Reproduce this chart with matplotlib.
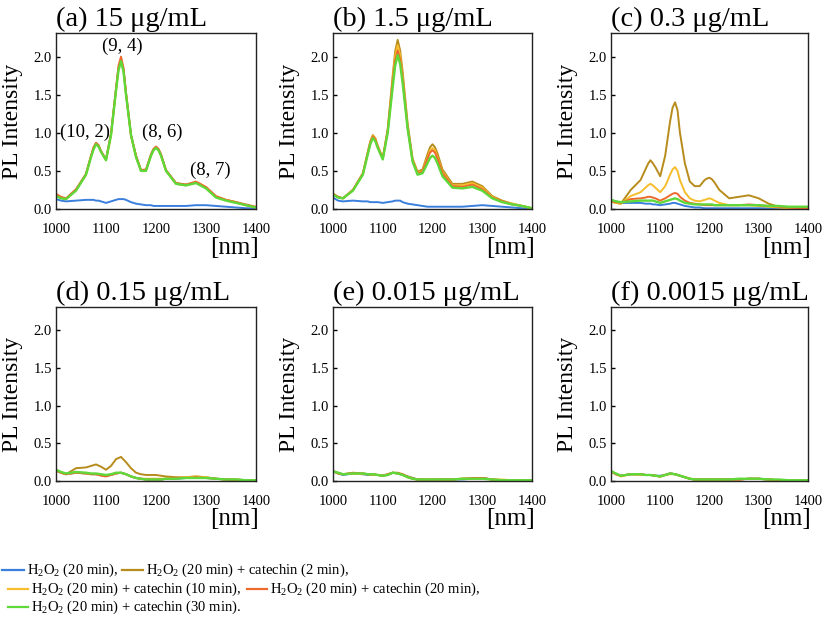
import matplotlib
matplotlib.use("Agg")
import matplotlib.pyplot as plt
from matplotlib.lines import Line2D

plt.rcParams["font.family"] = ["Liberation Serif", "DejaVu Serif"]
plt.rcParams["mathtext.fontset"] = "custom"
plt.rcParams["mathtext.rm"] = "Liberation Serif"
plt.rcParams["mathtext.it"] = "Liberation Serif:italic"

# wavelength grid (nm) for the top row, finer around the peaks
WL_TOP = [1000, 1010, 1020, 1040, 1060, 1070, 1075, 1080, 1085, 1090, 1100, 1110,
          1120, 1125, 1130, 1135, 1140, 1150, 1160, 1170, 1180, 1190, 1195, 1200,
          1205, 1210, 1220, 1240, 1260, 1280, 1300, 1320, 1340, 1360, 1380, 1400]
# wavelength grid (nm) for the bottom row
WL_LOW = [1000, 1010, 1020, 1040, 1060, 1070, 1080, 1090, 1100, 1110, 1120, 1130,
          1140, 1150, 1160, 1170, 1180, 1190, 1200, 1210, 1220, 1240, 1260, 1280,
          1300, 1320, 1340, 1360, 1380, 1400]

# (a) 15 ug/mL
a_blue = [0.13, 0.11, 0.10, 0.11, 0.12, 0.12, 0.12, 0.11, 0.11, 0.10, 0.08, 0.10,
          0.12, 0.13, 0.13, 0.13, 0.12, 0.09, 0.07, 0.06, 0.05, 0.05, 0.04, 0.04,
          0.04, 0.04, 0.04, 0.04, 0.04, 0.05, 0.05, 0.04, 0.03, 0.02, 0.01, 0.01]
a_brown = [0.19, 0.15, 0.13, 0.25, 0.46, 0.69, 0.80, 0.86, 0.83, 0.76, 0.65, 0.98,
           1.57, 1.85, 1.97, 1.83, 1.52, 0.97, 0.70, 0.51, 0.51, 0.71, 0.78, 0.81,
           0.78, 0.71, 0.51, 0.34, 0.32, 0.35, 0.28, 0.16, 0.12, 0.09, 0.05, 0.02]
a_yellow = [0.18, 0.15, 0.13, 0.25, 0.45, 0.69, 0.79, 0.86, 0.83, 0.75, 0.64, 0.97,
            1.56, 1.84, 1.96, 1.82, 1.51, 0.96, 0.69, 0.50, 0.51, 0.70, 0.78, 0.81,
            0.78, 0.70, 0.50, 0.33, 0.31, 0.35, 0.28, 0.16, 0.12, 0.09, 0.05, 0.02]
a_orange = [0.20, 0.16, 0.14, 0.26, 0.46, 0.70, 0.81, 0.87, 0.84, 0.76, 0.65, 0.99,
            1.58, 1.88, 2.00, 1.85, 1.53, 0.97, 0.70, 0.51, 0.52, 0.72, 0.79, 0.82,
            0.79, 0.72, 0.51, 0.34, 0.32, 0.36, 0.29, 0.17, 0.12, 0.09, 0.06, 0.03]
a_green = [0.17, 0.14, 0.13, 0.24, 0.45, 0.68, 0.78, 0.85, 0.82, 0.75, 0.64, 0.97,
           1.55, 1.82, 1.94, 1.80, 1.50, 0.97, 0.68, 0.50, 0.50, 0.70, 0.77, 0.80,
           0.77, 0.70, 0.50, 0.33, 0.31, 0.34, 0.27, 0.15, 0.11, 0.08, 0.05, 0.02]

# (b) 1.5 ug/mL
b_blue = [0.15, 0.11, 0.10, 0.11, 0.10, 0.10, 0.09, 0.09, 0.09, 0.09, 0.08, 0.09,
          0.10, 0.11, 0.11, 0.11, 0.09, 0.07, 0.06, 0.05, 0.04, 0.03, 0.03, 0.03,
          0.03, 0.03, 0.03, 0.03, 0.03, 0.04, 0.05, 0.04, 0.03, 0.02, 0.01, 0.01]
b_brown = [0.20, 0.16, 0.14, 0.25, 0.47, 0.75, 0.89, 0.97, 0.93, 0.83, 0.67, 1.05,
           1.75, 2.07, 2.22, 2.08, 1.80, 1.12, 0.66, 0.49, 0.52, 0.72, 0.81, 0.85,
           0.81, 0.73, 0.52, 0.33, 0.33, 0.36, 0.30, 0.17, 0.11, 0.07, 0.04, 0.01]
b_yellow = [0.20, 0.16, 0.14, 0.25, 0.46, 0.74, 0.88, 0.96, 0.92, 0.82, 0.66, 1.03,
            1.70, 2.01, 2.15, 2.02, 1.74, 1.09, 0.64, 0.47, 0.50, 0.68, 0.77, 0.80,
            0.77, 0.68, 0.49, 0.31, 0.31, 0.34, 0.28, 0.16, 0.10, 0.07, 0.04, 0.01]
b_orange = [0.20, 0.16, 0.14, 0.25, 0.46, 0.73, 0.87, 0.95, 0.91, 0.81, 0.66, 1.02,
            1.66, 1.95, 2.08, 1.96, 1.70, 1.07, 0.63, 0.46, 0.49, 0.66, 0.74, 0.77,
            0.74, 0.66, 0.47, 0.30, 0.29, 0.32, 0.26, 0.15, 0.10, 0.06, 0.04, 0.01]
b_green = [0.19, 0.15, 0.14, 0.24, 0.45, 0.72, 0.85, 0.93, 0.89, 0.80, 0.65, 1.00,
           1.60, 1.88, 2.02, 1.90, 1.65, 1.05, 0.62, 0.45, 0.47, 0.60, 0.67, 0.70,
           0.67, 0.60, 0.43, 0.28, 0.27, 0.29, 0.24, 0.14, 0.09, 0.06, 0.04, 0.01]

# (c) 0.3 ug/mL
c_blue = [0.12, 0.10, 0.08, 0.08, 0.08, 0.07, 0.07, 0.07, 0.06, 0.06, 0.05, 0.06,
          0.07, 0.08, 0.08, 0.07, 0.06, 0.04, 0.03, 0.02, 0.02, 0.01, 0.01, 0.01,
          0.01, 0.01, 0.01, 0.01, 0.01, 0.01, 0.01, 0.01, 0.01, 0.01, 0.02, 0.02]
c_brown = [0.10, 0.08, 0.07, 0.25, 0.38, 0.52, 0.59, 0.64, 0.60, 0.55, 0.43, 0.70,
           1.15, 1.33, 1.40, 1.30, 1.00, 0.60, 0.36, 0.30, 0.30, 0.38, 0.40, 0.41,
           0.39, 0.35, 0.25, 0.14, 0.16, 0.18, 0.14, 0.07, 0.03, 0.02, 0.01, 0.01]
c_yellow = [0.10, 0.08, 0.07, 0.17, 0.22, 0.28, 0.31, 0.33, 0.31, 0.28, 0.22, 0.30,
            0.45, 0.52, 0.55, 0.50, 0.38, 0.22, 0.14, 0.11, 0.10, 0.12, 0.13, 0.14,
            0.13, 0.11, 0.08, 0.05, 0.05, 0.05, 0.04, 0.03, 0.02, 0.01, 0.00, 0.00]
c_orange = [0.10, 0.09, 0.08, 0.13, 0.14, 0.15, 0.16, 0.16, 0.15, 0.14, 0.11, 0.14,
            0.18, 0.20, 0.21, 0.20, 0.16, 0.11, 0.08, 0.07, 0.06, 0.05, 0.05, 0.05,
            0.05, 0.05, 0.05, 0.05, 0.05, 0.06, 0.05, 0.04, 0.03, 0.02, 0.01, 0.01]
c_green = [0.12, 0.10, 0.09, 0.10, 0.11, 0.11, 0.11, 0.11, 0.11, 0.10, 0.08, 0.10,
           0.12, 0.13, 0.14, 0.13, 0.11, 0.08, 0.07, 0.06, 0.06, 0.06, 0.06, 0.06,
           0.06, 0.05, 0.05, 0.05, 0.05, 0.05, 0.05, 0.04, 0.04, 0.03, 0.03, 0.03]

# (d) 0.15 ug/mL
d_blue = [0.14, 0.11, 0.09, 0.11, 0.10, 0.09, 0.09, 0.08, 0.07, 0.08, 0.10, 0.11,
          0.09, 0.06, 0.04, 0.03, 0.02, 0.02, 0.02, 0.02, 0.03, 0.03, 0.04, 0.04,
          0.04, 0.03, 0.02, 0.02, 0.01, 0.01]
d_brown = [0.14, 0.11, 0.09, 0.17, 0.18, 0.20, 0.22, 0.19, 0.15, 0.20, 0.29, 0.32,
           0.25, 0.17, 0.11, 0.09, 0.08, 0.08, 0.08, 0.07, 0.06, 0.05, 0.05, 0.06,
           0.05, 0.03, 0.02, 0.02, 0.01, 0.01]
d_yellow = [0.14, 0.11, 0.09, 0.11, 0.10, 0.09, 0.09, 0.08, 0.07, 0.08, 0.10, 0.11,
            0.09, 0.06, 0.04, 0.03, 0.03, 0.03, 0.03, 0.03, 0.03, 0.04, 0.05, 0.06,
            0.05, 0.03, 0.02, 0.02, 0.01, 0.01]
d_orange = [0.14, 0.11, 0.09, 0.11, 0.10, 0.09, 0.09, 0.07, 0.06, 0.08, 0.10, 0.11,
            0.09, 0.06, 0.04, 0.03, 0.02, 0.02, 0.02, 0.02, 0.03, 0.04, 0.04, 0.05,
            0.04, 0.03, 0.02, 0.01, 0.01, 0.01]
d_green = [0.15, 0.12, 0.10, 0.12, 0.11, 0.10, 0.10, 0.09, 0.08, 0.09, 0.11, 0.11,
           0.09, 0.06, 0.04, 0.03, 0.02, 0.02, 0.02, 0.02, 0.03, 0.03, 0.04, 0.04,
           0.04, 0.03, 0.02, 0.02, 0.01, 0.01]

# (e) 0.015 ug/mL
e_blue = [0.13, 0.10, 0.08, 0.10, 0.09, 0.08, 0.08, 0.08, 0.07, 0.08, 0.11, 0.10,
          0.08, 0.06, 0.04, 0.02, 0.02, 0.01, 0.01, 0.02, 0.02, 0.02, 0.02, 0.03,
          0.04, 0.02, 0.01, 0.01, 0.01, 0.01]
e_brown = [0.13, 0.11, 0.09, 0.10, 0.10, 0.09, 0.09, 0.08, 0.07, 0.09, 0.11, 0.11,
           0.09, 0.06, 0.04, 0.02, 0.02, 0.02, 0.02, 0.02, 0.02, 0.02, 0.03, 0.03,
           0.04, 0.02, 0.01, 0.01, 0.01, 0.01]
e_yellow = [0.13, 0.10, 0.09, 0.10, 0.09, 0.09, 0.08, 0.08, 0.07, 0.08, 0.11, 0.10,
            0.08, 0.05, 0.03, 0.02, 0.02, 0.02, 0.02, 0.02, 0.02, 0.02, 0.03, 0.03,
            0.03, 0.02, 0.02, 0.01, 0.01, 0.01]
e_orange = [0.13, 0.10, 0.09, 0.11, 0.10, 0.09, 0.09, 0.08, 0.07, 0.09, 0.11, 0.10,
            0.09, 0.05, 0.03, 0.02, 0.02, 0.02, 0.02, 0.02, 0.02, 0.02, 0.03, 0.04,
            0.04, 0.02, 0.01, 0.01, 0.01, 0.01]
e_green = [0.13, 0.11, 0.09, 0.10, 0.10, 0.09, 0.09, 0.08, 0.07, 0.08, 0.11, 0.10,
           0.08, 0.05, 0.03, 0.02, 0.02, 0.02, 0.02, 0.02, 0.02, 0.02, 0.03, 0.03,
           0.03, 0.02, 0.01, 0.01, 0.01, 0.01]

# (f) 0.0015 ug/mL
f_blue = [0.13, 0.09, 0.07, 0.09, 0.09, 0.08, 0.08, 0.07, 0.07, 0.08, 0.10, 0.09,
          0.07, 0.05, 0.03, 0.02, 0.02, 0.02, 0.02, 0.02, 0.02, 0.02, 0.02, 0.03,
          0.03, 0.02, 0.01, 0.01, 0.01, 0.01]
f_brown = [0.13, 0.09, 0.07, 0.09, 0.09, 0.08, 0.08, 0.07, 0.06, 0.08, 0.10, 0.09,
           0.07, 0.05, 0.03, 0.02, 0.02, 0.02, 0.02, 0.02, 0.02, 0.02, 0.02, 0.03,
           0.03, 0.02, 0.01, 0.01, 0.01, 0.01]
f_yellow = [0.12, 0.09, 0.06, 0.09, 0.08, 0.08, 0.08, 0.07, 0.06, 0.08, 0.09, 0.09,
            0.07, 0.05, 0.03, 0.02, 0.02, 0.02, 0.02, 0.02, 0.02, 0.02, 0.02, 0.03,
            0.03, 0.02, 0.01, 0.01, 0.00, 0.00]
f_orange = [0.13, 0.09, 0.07, 0.09, 0.09, 0.08, 0.08, 0.07, 0.06, 0.08, 0.10, 0.09,
            0.07, 0.05, 0.03, 0.02, 0.02, 0.02, 0.02, 0.02, 0.02, 0.02, 0.02, 0.03,
            0.03, 0.02, 0.01, 0.01, 0.01, 0.01]
f_green = [0.13, 0.10, 0.07, 0.09, 0.09, 0.08, 0.08, 0.07, 0.06, 0.08, 0.10, 0.09,
           0.07, 0.05, 0.03, 0.02, 0.02, 0.02, 0.02, 0.02, 0.02, 0.02, 0.03, 0.03,
           0.03, 0.02, 0.02, 0.01, 0.01, 0.01]

TITLES = ["(a) 15 μg/mL", "(b) 1.5 μg/mL", "(c) 0.3 μg/mL",
          "(d) 0.15 μg/mL", "(e) 0.015 μg/mL", "(f) 0.0015 μg/mL"]
PANELS = [
    [a_blue, a_brown, a_yellow, a_orange, a_green],
    [b_blue, b_brown, b_yellow, b_orange, b_green],
    [c_blue, c_brown, c_yellow, c_orange, c_green],
    [d_blue, d_brown, d_yellow, d_orange, d_green],
    [e_blue, e_brown, e_yellow, e_orange, e_green],
    [f_blue, f_brown, f_yellow, f_orange, f_green],
]
COLORS = ["#3b7fdc", "#b88c1c", "#f6bd2c", "#ec6a2c", "#5fd83a"]
LABELS = [r"$\mathrm{H_2O_2}$ (20 min),",
          r"$\mathrm{H_2O_2}$ (20 min) + catechin (2 min),",
          r"$\mathrm{H_2O_2}$ (20 min) + catechin (10 min),",
          r"$\mathrm{H_2O_2}$ (20 min) + catechin (20 min),",
          r"$\mathrm{H_2O_2}$ (20 min) + catechin (30 min)."]

# chirality labels in panel (a): text, x, y
CHIRAL = [("(10, 2)", 1058, 1.01), ("(9, 4)", 1132, 2.13),
          ("(8, 6)", 1212, 1.01), ("(8, 7)", 1308, 0.51)]

W, H = 825, 619
fig = plt.figure(figsize=(W / 100, H / 100), dpi=100)

col_left = [56, 333, 611]
col_w = [200, 199, 197]
row_top = [33, 307]
row_h = [176, 174]

for i, series in enumerate(PANELS):
    r, c = divmod(i, 3)
    wl = WL_TOP if r == 0 else WL_LOW
    ax = fig.add_axes([col_left[c] / W, 1 - (row_top[r] + row_h[r]) / H,
                       col_w[c] / W, row_h[r] / H])
    for ys, col in zip(series, COLORS):
        ax.plot(wl, ys, color=col, lw=1.4 if col != COLORS[4] else 1.7)
    ax.set_xlim(1000, 1400)
    ax.set_ylim(0, 2.31)
    ax.set_xticks([1000, 1100, 1200, 1300, 1400])
    ax.set_yticks([0, 0.5, 1.0, 1.5, 2.0])
    ax.set_yticklabels(["0.0", "0.5", "1.0", "1.5", "2.0"])
    ax.tick_params(axis="y", direction="in", length=3, width=1, labelsize=10.5, pad=3)
    ax.tick_params(axis="x", length=0, labelsize=10.5, pad=10)
    for sp in ax.spines.values():
        sp.set_linewidth(1.0)
        sp.set_color("#222222")
    ax.set_title(TITLES[i], loc="left", fontsize=20.5, pad=5)
    ax.set_ylabel("PL Intensity", fontsize=17)
    ax.yaxis.set_label_coords(-33 / col_w[c], 0.5)
    ax.text(1.015, -0.22, "[nm]", transform=ax.transAxes, ha="right",
            va="center", fontsize=18)
    if i == 0:
        for txt, x, y in CHIRAL:
            ax.text(x, y, txt, ha="center", va="center", fontsize=13.5)

# legend drawn by hand in three rows
rows = [
    [(2, 24, 27, 0), (122, 143, 146, 1)],
    [(8, 28, 31, 2), (247, 267, 270, 3)],
    [(8, 28, 31, 4)],
]
row_y = [570, 589, 607]
for ry, items in zip(row_y, rows):
    yf = 1 - ry / H
    for x0, x1, xt, k in items:
        fig.add_artist(Line2D([x0 / W, x1 / W], [yf, yf], color=COLORS[k], lw=1.6))
        fig.text(xt / W, yf, LABELS[k], ha="left", va="center", fontsize=10.5)

fig.savefig("out.png", dpi=100)
